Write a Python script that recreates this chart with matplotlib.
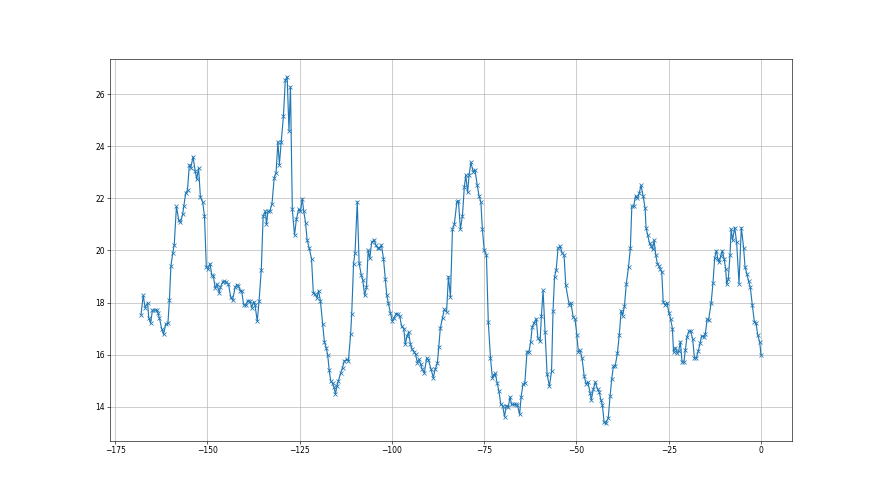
import matplotlib
matplotlib.use("Agg")
import matplotlib.pyplot as plt

hours = [
    -168.0, -167.4, -166.9, -166.2, -165.9, -165.4, -164.9, -164.3, -163.8, -163.4,
    -163.0, -162.4, -161.9, -161.3, -160.7, -160.3, -159.9, -159.4, -159.0, -158.4,
    -157.8, -157.3, -156.7, -156.4, -155.9, -155.4, -154.9, -154.5, -153.9, -153.3,
    -152.9, -152.4, -151.9, -151.3, -150.8, -150.3, -149.9, -149.3, -148.8, -148.4,
    -147.9, -147.4, -146.8, -146.5, -145.9, -145.4, -144.9, -144.3, -143.7, -143.2,
    -142.5, -142.0, -141.6, -141.1, -140.7, -140.2, -139.6, -139.1, -138.4, -138.0,
    -137.5, -137.1, -136.5, -136.0, -135.4, -134.9, -134.3, -134.0, -133.6, -133.1,
    -132.5, -131.9, -131.4, -130.9, -130.5, -130.0, -129.4, -128.9, -128.4, -127.9,
    -127.5, -127.0, -126.4, -125.9, -125.3, -124.8, -124.3, -123.9, -123.4, -123.0,
    -122.4, -121.8, -121.3, -120.8, -120.3, -119.9, -119.4, -118.8, -118.3, -117.8,
    -117.4, -117.0, -116.6, -116.1, -115.7, -115.3, -114.9, -114.5, -113.9, -113.4,
    -112.9, -112.2, -111.8, -111.2, -110.9, -110.4, -110.0, -109.4, -108.9, -108.3,
    -107.9, -107.4, -106.9, -106.45, -106.0, -105.5, -104.8, -104.4, -103.8, -103.4,
    -102.85, -102.3, -101.8, -101.4, -101.0, -100.4, -99.9, -99.4, -98.9, -98.4,
    -97.9, -97.4, -96.8, -96.4, -95.9, -95.5, -95.0, -94.6, -94.1, -93.6,
    -93.1, -92.7, -92.2, -91.8, -91.2, -90.6, -90.1, -89.4, -88.8, -88.3,
    -87.7, -87.3, -86.9, -86.3, -85.8, -85.2, -84.7, -84.15, -83.6, -83.1,
    -82.4, -82.0, -81.45, -80.9, -80.4, -80.0, -79.5, -79.1, -78.6, -78.0,
    -77.5, -76.9, -76.4, -75.9, -75.5, -75.0, -74.4, -73.9, -73.3, -72.8,
    -72.4, -72.0, -71.5, -71.0, -70.5, -70.0, -69.5, -69.0, -68.5, -68.0,
    -67.6, -67.0, -66.5, -66.0, -65.4, -65.0, -64.5, -64.0, -63.4, -62.9,
    -62.4, -62.0, -61.45, -60.9, -60.46, -59.86, -59.5, -59.05, -58.5, -57.96,
    -57.33, -56.75, -56.35, -55.95, -55.5, -55.0, -54.45, -53.9, -53.36, -52.9,
    -52.0, -51.5, -50.9, -50.4, -49.9, -49.5, -49.0, -48.5, -47.9, -47.4,
    -46.9, -46.3, -46.0, -45.4, -44.9, -44.3, -43.8, -43.4, -43.0, -42.5,
    -42.1, -41.4, -40.9, -40.45, -40.0, -39.5, -38.9, -38.4, -37.9, -37.5,
    -37.0, -36.5, -35.9, -35.4, -35.0, -34.5, -34.0, -33.5, -33.0, -32.5,
    -31.95, -31.4, -31.15, -30.7, -30.2, -29.8, -29.4, -29.0, -28.5, -28.1,
    -27.6, -27.3, -26.9, -26.5, -26.0, -25.5, -24.9, -24.5, -24.0, -23.7,
    -23.2, -22.75, -22.3, -21.85, -21.4, -20.9, -20.5, -20.05, -19.5, -19.05,
    -18.5, -18.05, -17.5, -17.0, -16.5, -16.1, -15.5, -15.1, -14.6, -14.2,
    -13.5, -13.0, -12.55, -12.1, -11.7, -11.3, -10.9, -10.5, -10.0, -9.57,
    -9.3, -8.85, -8.4, -8.1, -7.7, -7.13, -6.6, -5.96, -5.33, -4.7,
    -4.33, -3.8, -3.34, -2.89, -2.35, -1.8, -1.36, -0.9, -0.36, 0.0,
]

values = [
    17.53, 18.28, 17.81, 17.99, 17.42, 17.21, 17.71, 17.71, 17.72, 17.59,
    17.40, 17.00, 16.78, 17.17, 17.21, 18.10, 19.40, 19.90, 20.21, 21.69,
    21.18, 21.08, 21.40, 21.69, 22.19, 22.32, 23.29, 23.17, 23.60, 23.04,
    22.74, 23.17, 22.04, 21.87, 21.33, 19.37, 19.28, 19.50, 19.05, 19.03,
    18.55, 18.71, 18.38, 18.58, 18.79, 18.81, 18.79, 18.71, 18.22, 18.09,
    18.58, 18.69, 18.63, 18.46, 18.44, 17.92, 17.90, 18.08, 18.05, 17.80,
    18.03, 17.90, 17.28, 18.08, 19.27, 21.32, 21.51, 21.00, 21.50, 21.50,
    21.80, 22.80, 22.99, 24.18, 23.30, 24.18, 25.17, 26.54, 26.67, 24.60,
    26.28, 21.58, 20.59, 21.19, 21.58, 21.50, 21.99, 21.50, 21.06, 20.42,
    20.08, 19.69, 18.37, 18.33, 18.18, 18.46, 18.08, 17.19, 16.49, 16.26,
    15.97, 15.40, 15.00, 14.90, 14.75, 14.50, 14.80, 15.00, 15.30, 15.50,
    15.76, 15.82, 15.76, 16.78, 17.58, 19.50, 19.92, 21.88, 19.51, 19.05,
    18.87, 18.28, 18.58, 20.01, 19.70, 20.31, 20.41, 20.21, 20.08, 20.08,
    20.21, 19.69, 18.90, 18.28, 18.00, 17.59, 17.29, 17.42, 17.58, 17.55,
    17.49, 17.10, 17.00, 16.40, 16.72, 16.87, 16.40, 16.23, 16.12, 16.01,
    15.69, 15.82, 15.63, 15.44, 15.31, 15.88, 15.79, 15.44, 15.12, 15.44,
    15.67, 16.30, 17.01, 17.42, 17.74, 17.64, 19.00, 18.22, 20.82, 21.01,
    21.87, 21.91, 20.82, 21.33, 22.42, 22.90, 22.23, 22.90, 23.38, 23.03,
    23.10, 22.51, 22.10, 21.85, 20.82, 20.01, 19.82, 17.27, 15.88, 15.12,
    15.21, 15.28, 14.92, 14.60, 14.09, 14.05, 13.62, 14.05, 13.99, 14.38,
    14.09, 14.09, 14.09, 14.06, 13.71, 14.38, 14.86, 14.90, 16.12, 16.10,
    16.50, 17.06, 17.23, 17.38, 16.65, 16.51, 17.50, 18.47, 16.86, 15.26,
    14.78, 15.38, 17.69, 18.97, 19.26, 20.08, 20.17, 19.91, 19.82, 18.67,
    17.92, 17.99, 17.45, 17.37, 16.77, 16.10, 16.17, 15.87, 15.17, 14.88,
    14.95, 14.53, 14.27, 14.69, 14.95, 14.68, 14.55, 14.27, 14.08, 13.40,
    13.37, 13.56, 14.40, 15.06, 15.55, 15.58, 16.06, 16.77, 17.69, 17.50,
    17.86, 18.72, 19.37, 20.08, 21.70, 21.70, 22.10, 22.00, 22.20, 22.50,
    22.10, 21.62, 20.88, 20.60, 20.27, 20.18, 20.05, 20.40, 19.82, 19.50,
    19.41, 19.28, 19.18, 18.03, 17.91, 18.00, 17.59, 17.38, 17.00, 16.10,
    16.27, 16.08, 16.14, 16.50, 15.72, 15.72, 16.18, 16.69, 16.91, 16.90,
    16.59, 15.88, 15.88, 16.14, 16.44, 16.72, 16.69, 16.78, 17.36, 17.33,
    18.00, 18.77, 19.71, 19.99, 19.69, 19.54, 19.79, 19.99, 19.69, 19.28,
    18.71, 18.90, 19.82, 20.82, 20.40, 20.88, 20.31, 18.73, 20.88, 20.09,
    19.37, 19.09, 18.81, 18.58, 17.90, 17.27, 17.23, 16.76, 16.49, 16.00,
]

fig, ax = plt.subplots(figsize=(16, 9), dpi=55)
ax.plot(hours, values, marker="x", color="#1f77b4")
ax.grid(True)
fig.savefig("out.png", dpi=55)
